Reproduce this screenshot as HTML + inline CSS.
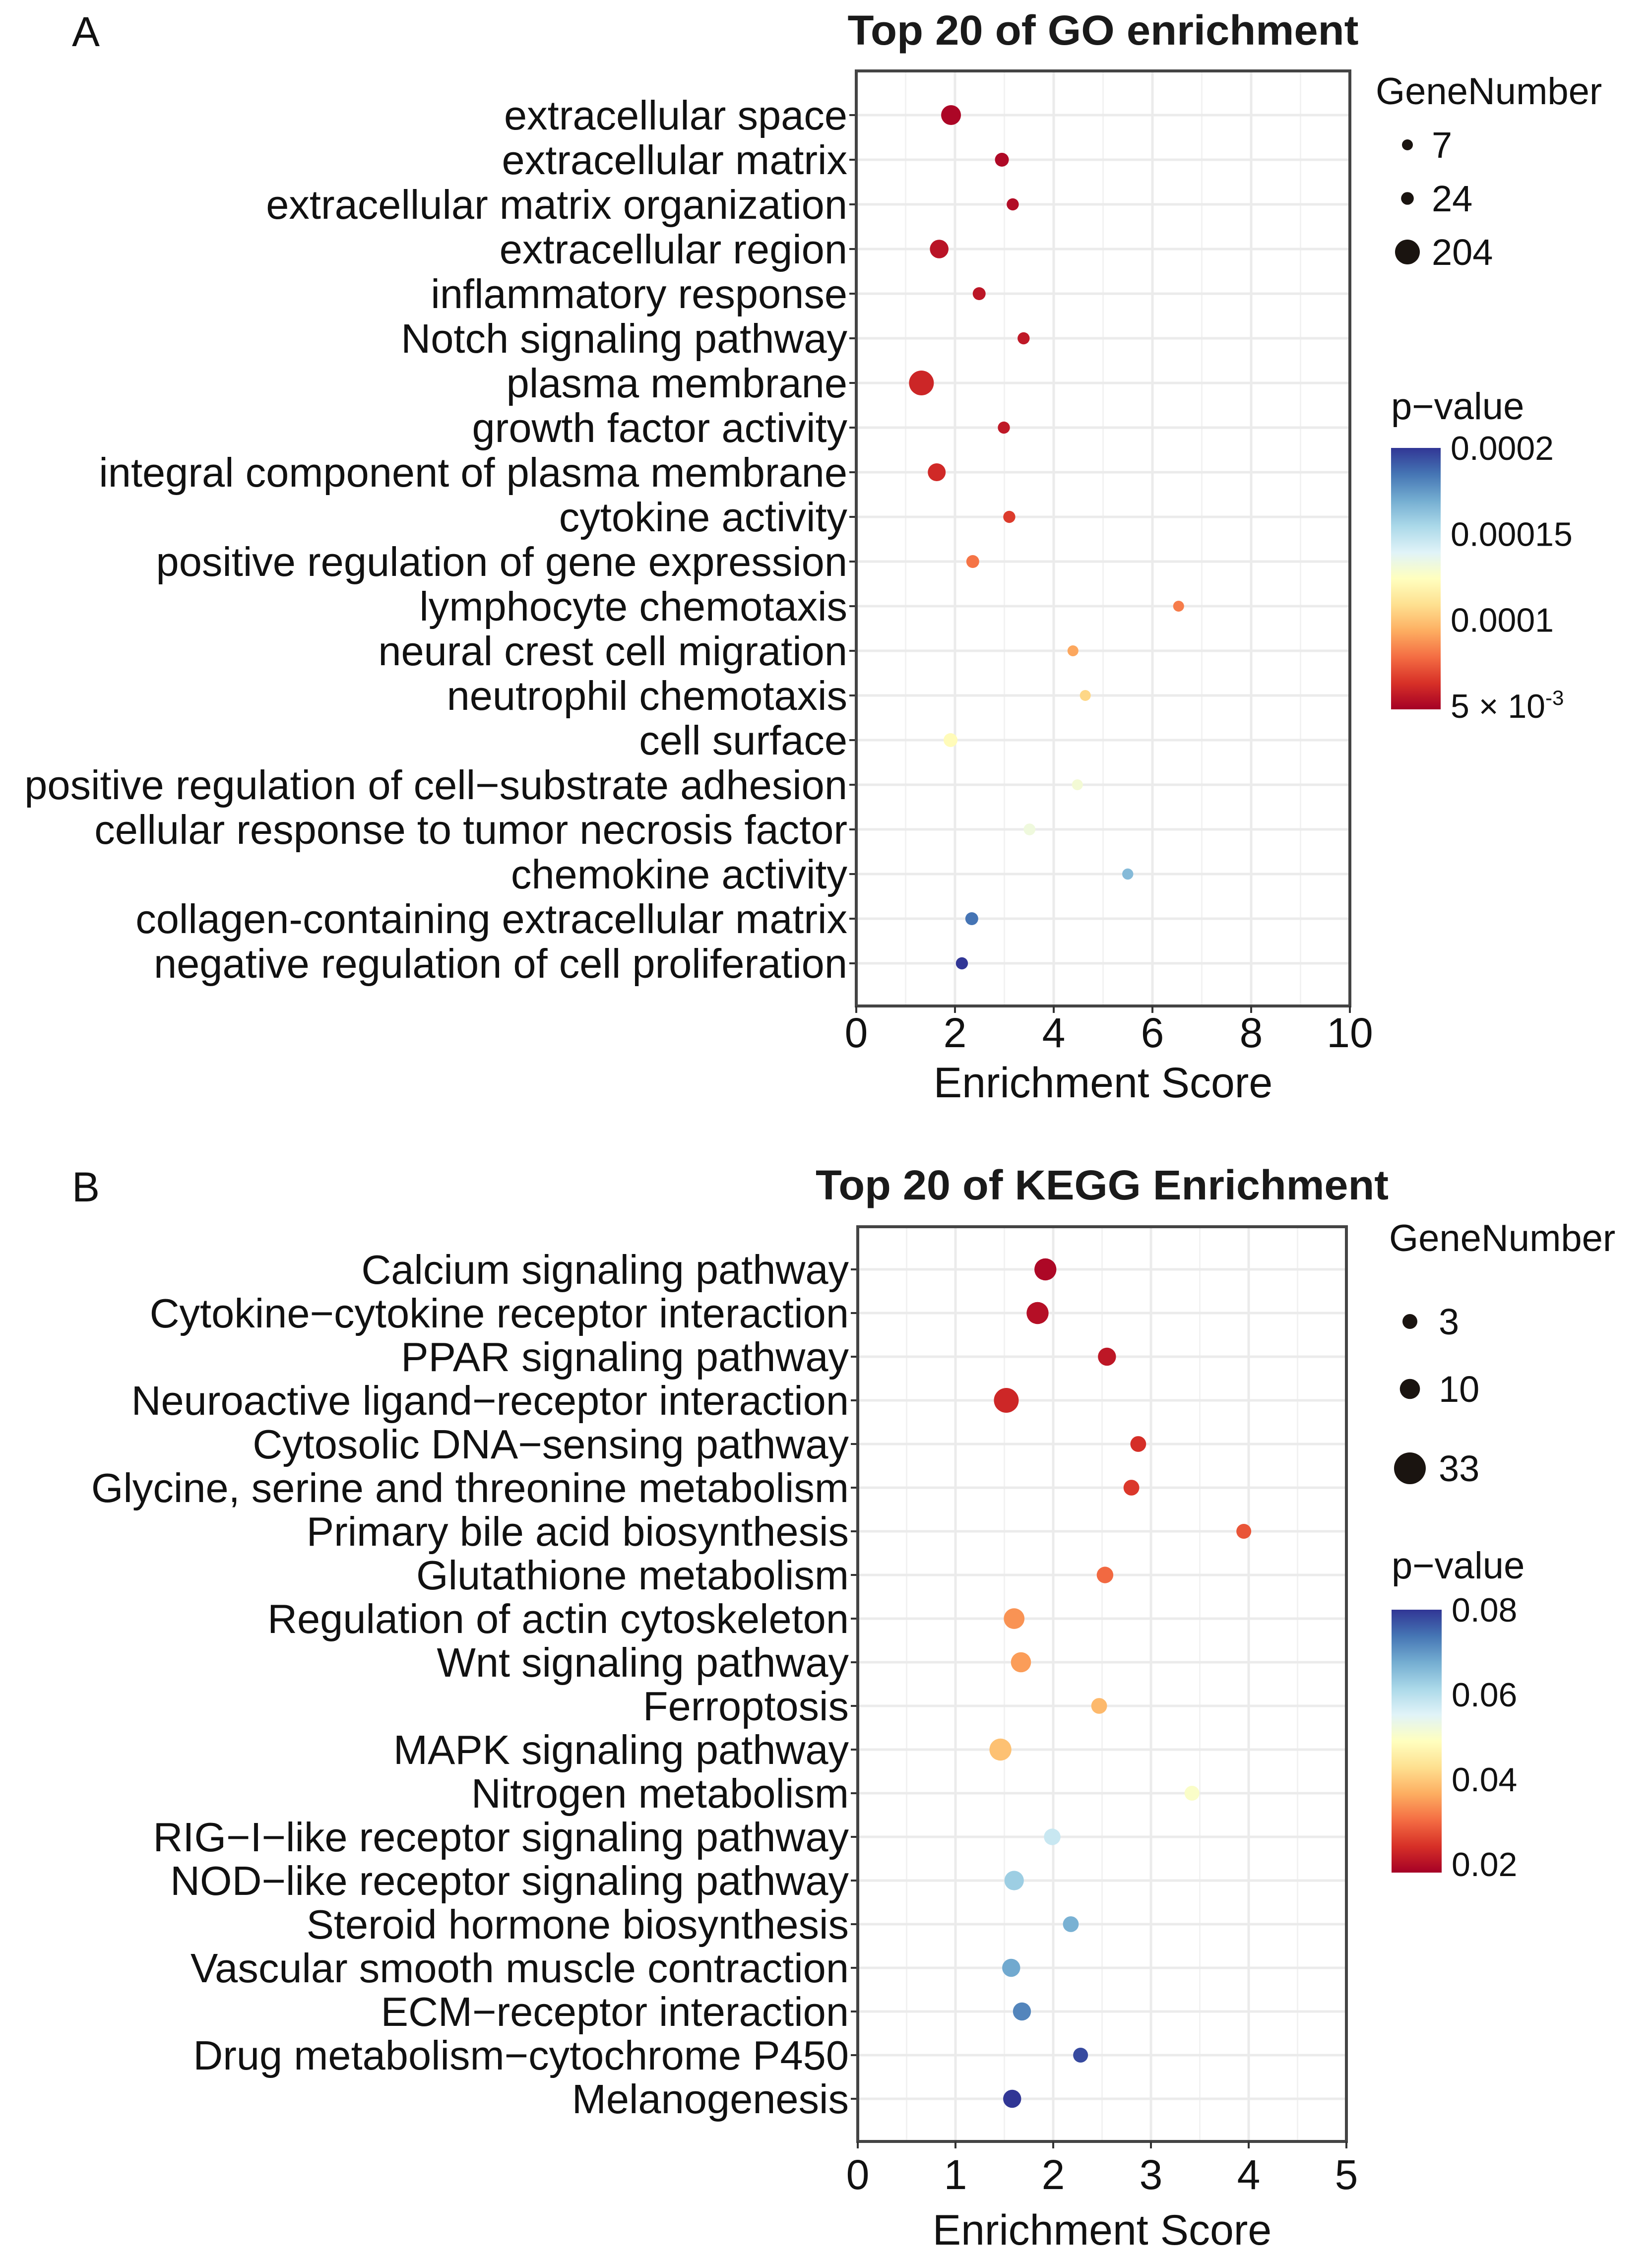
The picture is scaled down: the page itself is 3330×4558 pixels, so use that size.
<!DOCTYPE html>
<html><head><meta charset="utf-8">
<style>
html,body{margin:0;padding:0;background:#fff;}
svg{display:block;font-family:"Liberation Sans",Arial,sans-serif;}
</style></head>
<body>
<svg id="fig" width="3330" height="4558" viewBox="0 0 3330 4558" xmlns="http://www.w3.org/2000/svg">
<defs>
<linearGradient id="gradA" x1="0" y1="1" x2="0" y2="0">
<stop offset="0" stop-color="#a50026"/><stop offset="0.1" stop-color="#d73027"/><stop offset="0.2" stop-color="#f46d43"/><stop offset="0.3" stop-color="#fdae61"/><stop offset="0.4" stop-color="#fee090"/><stop offset="0.5" stop-color="#ffffbf"/><stop offset="0.6" stop-color="#e0f3f8"/><stop offset="0.7" stop-color="#abd9e9"/><stop offset="0.8" stop-color="#74add1"/><stop offset="0.9" stop-color="#4575b4"/><stop offset="1" stop-color="#313695"/>
</linearGradient>
</defs>
<rect width="3330" height="4558" fill="#fff"/>
<g id="panelA"></g>
<g id="panelB"></g>
</svg>
<script>
// ---------- Panel A data ----------
const goTerms = ["extracellular space","extracellular matrix","extracellular matrix organization","extracellular region","inflammatory response","Notch signaling pathway","plasma membrane","growth factor activity","integral component of plasma membrane","cytokine activity","positive regulation of gene expression","lymphocyte chemotaxis","neural crest cell migration","neutrophil chemotaxis","cell surface","positive regulation of cell\u2212substrate adhesion","cellular response to tumor necrosis factor","chemokine activity","collagen-containing extracellular matrix","negative regulation of cell proliferation"];
const goScores = [1.92,2.95,3.17,1.68,2.49,3.39,1.32,2.99,1.63,3.10,2.36,6.53,4.39,4.64,1.91,4.48,3.51,5.50,2.34,2.14];
const goGenes = [116,36,18,98,26,18,204,18,86,18,26,7,7,7,36,7,15,9,26,18];
const goPvals = [5.0e-5,5.1e-5,5.2e-5,5.4e-5,5.5e-5,5.6e-5,6.0e-5,5.6e-5,6.1e-5,6.6e-5,8.0e-5,8.2e-5,9.2e-5,1.06e-4,1.22e-4,1.3e-4,1.32e-4,1.65e-4,1.85e-4,2.0e-4];
const goXTicks = [0,2,4,6,8,10];
const goSizeLegend = [7,24,204];
const goPvalTicks = [0.0002,0.00015,0.0001,0.00005];
const goPvalTickLabels = ["0.0002","0.00015","0.0001","5 \u00d7 10"];

// ---------- Panel B data ----------
const keggTerms = ["Calcium signaling pathway","Cytokine\u2212cytokine receptor interaction","PPAR signaling pathway","Neuroactive ligand\u2212receptor interaction","Cytosolic DNA\u2212sensing pathway","Glycine, serine and threonine metabolism","Primary bile acid biosynthesis","Glutathione metabolism","Regulation of actin cytoskeleton","Wnt signaling pathway","Ferroptosis","MAPK signaling pathway","Nitrogen metabolism","RIG\u2212I\u2212like receptor signaling pathway","NOD\u2212like receptor signaling pathway","Steroid hormone biosynthesis","Vascular smooth muscle contraction","ECM\u2212receptor interaction","Drug metabolism\u2212cytochrome P450","Melanogenesis"];
const keggScores = [1.92,1.84,2.55,1.52,2.87,2.80,3.95,2.53,1.60,1.67,2.47,1.46,3.42,1.99,1.60,2.18,1.57,1.68,2.28,1.58];
const keggGenes = [13,13,7,18,4,4,3,5,11,10,4,13,3,5,9,4,7,7,3,7];
const keggPvals = [0.019,0.02,0.021,0.023,0.024,0.025,0.028,0.030,0.034,0.035,0.038,0.039,0.050,0.058,0.063,0.067,0.068,0.072,0.078,0.080];
const keggXTicks = [0,1,2,3,4,5];
const keggSizeLegend = [3,10,33];
const keggPvalTicks = [0.08,0.06,0.04,0.02];
const keggPvalTickLabels = ["0.08","0.06","0.04","0.02"];

const NS = "http://www.w3.org/2000/svg";
const STOPS = ["#a50026","#d73027","#f46d43","#fdae61","#fee090","#ffffbf","#e0f3f8","#abd9e9","#74add1","#4575b4","#313695"];
function hex(c){return [parseInt(c.slice(1,3),16),parseInt(c.slice(3,5),16),parseInt(c.slice(5,7),16)];}
function colorAt(t){
  t=Math.max(0,Math.min(1,t));
  const f=t*(STOPS.length-1), i=Math.min(Math.floor(f),STOPS.length-2), u=f-i;
  const a=hex(STOPS[i]), b=hex(STOPS[i+1]);
  return "rgb("+a.map((v,k)=>Math.round(v+(b[k]-v)*u)).join(",")+")";
}
function mk(parent,tag,attrs,text){
  const e=document.createElementNS(NS,tag);
  for(const k in attrs) e.setAttribute(k,attrs[k]);
  if(text!==undefined) e.textContent=text;
  parent.appendChild(e);
  return e;
}

function drawPanel(g,cfg){
  const L=cfg.left,R=cfg.right,T=cfg.top,B=cfg.bottom;
  const xScale=v=>L+(v-cfg.xmin)/(cfg.xmax-cfg.xmin)*(R-L);
  const n=cfg.terms.length;
  const yScale=i=>cfg.row0+i*(cfg.rowN-cfg.row0)/(n-1);
  const rScale=gn=>Math.sqrt(cfg.rMin*cfg.rMin+(cfg.rMax*cfg.rMax-cfg.rMin*cfg.rMin)*(gn-cfg.gMin)/(cfg.gMax-cfg.gMin));
  const cScale=p=>colorAt((p-cfg.pMin)/(cfg.pMax-cfg.pMin));

  const letter=mk(g,"text",{x:cfg.letterX,y:cfg.letterY,"font-size":84,fill:"#111"},cfg.letter);
  
  
  const title=mk(g,"text",{x:(L+R)/2,y:cfg.titleY,"font-size":84,"font-weight":"bold","text-anchor":"middle",fill:"#1a1a1a",textLength:cfg.titleLen,lengthAdjust:"spacingAndGlyphs","xml:space":"preserve"},cfg.title);
  
  

  const grid=mk(g,"g",{});
  
  
  for(let k=0;k<cfg.xTicks.length-1;k++){
    const mid=(cfg.xTicks[k]+cfg.xTicks[k+1])/2;
    mk(grid,"line",{x1:xScale(mid),x2:xScale(mid),y1:T,y2:B,stroke:"#f2f2f2","stroke-width":3});
  }
  cfg.xTicks.forEach(v=>mk(grid,"line",{x1:xScale(v),x2:xScale(v),y1:T,y2:B,stroke:"#ebebeb","stroke-width":5}));
  for(let i=0;i<n;i++) mk(grid,"line",{x1:L,x2:R,y1:yScale(i),y2:yScale(i),stroke:"#ebebeb","stroke-width":5});

  cfg.terms.forEach((t,i)=>{
    const y=yScale(i);
    const tk=mk(g,"line",{x1:L-14,x2:L,y1:y,y2:y,stroke:"#333","stroke-width":4});
    
    
    const lb=mk(g,"text",{x:L-18,y:y+29,"font-size":cfg.labelSize,"text-anchor":"end",fill:"#111"},t);
    
    
  });

  cfg.scores.forEach((s,i)=>{
    const c=mk(g,"circle",{cx:xScale(s),cy:yScale(i),r:rScale(cfg.genes[i]).toFixed(1),fill:cScale(cfg.pvals[i])});
    
    
  });

  const bd=mk(g,"rect",{x:L,y:T,width:R-L,height:B-T,fill:"none",stroke:"#444","stroke-width":6});
  
  

  cfg.xTicks.forEach(v=>{
    const x=xScale(v);
    const tk=mk(g,"line",{x1:x,x2:x,y1:B,y2:B+14,stroke:"#333","stroke-width":4});
    
    
    const lb=mk(g,"text",{x:x,y:cfg.tickY,"font-size":84,"text-anchor":"middle",fill:"#111"},String(v));
    
    
  });
  const xt=mk(g,"text",{x:(L+R)/2,y:cfg.xTitleY,"font-size":86,"text-anchor":"middle",fill:"#111"},"Enrichment Score");
  
  

  const sl=mk(g,"g",{});
  
  
  mk(sl,"text",{x:cfg.sizeTitleX,y:cfg.sizeTitleY,"font-size":76,fill:"#111"},"GeneNumber");
  cfg.sizeLegend.forEach((gn,k)=>{
    const y=cfg.sizeYs[k];
    const d=mk(sl,"circle",{cx:cfg.sizeDotX,cy:y,r:cfg.legendR[k],fill:"#1a1410"});
    
    
    const t=mk(sl,"text",{x:cfg.sizeLabX,y:y+26,"font-size":74,fill:"#111"},String(gn));
    
    
  });

  const cl=mk(g,"g",{});
  
  
  mk(cl,"text",{x:cfg.cbX,y:cfg.pTitleY,"font-size":76,fill:"#111"},"p\u2212value");
  const bar=mk(cl,"rect",{x:cfg.cbX,y:cfg.cbTop,width:cfg.cbW,height:cfg.cbBot-cfg.cbTop,fill:"url(#gradA)"});
  
  
  const pY=p=>cfg.cbBot-(p-cfg.pMin)/(cfg.pMax-cfg.pMin)*(cfg.cbBot-cfg.cbTop);
  cfg.pTicks.forEach((p,k)=>{
    const y=pY(p);
    const t=mk(cl,"text",{x:cfg.cbX+cfg.cbW+20,y:y+24,"font-size":68,fill:"#111"},cfg.pLabels[k]);
    
    
    if(cfg.pLabels[k].indexOf("10")>0){
      mk(t,"tspan",{dy:-26,"font-size":42},"-3");
    }
  });
}

drawPanel(document.getElementById("panelA"),{
  letter:"A",letterX:145,letterY:93,title:"Top 20 of  GO enrichment",titleY:90,titleLen:1030,
  left:1726,right:2721,top:143,bottom:2028,row0:232,rowN:1942,xmin:0,xmax:10,
  terms:goTerms,scores:goScores,genes:goGenes,pvals:goPvals,xTicks:goXTicks,labelSize:83,
  rMin:11,rMax:25,gMin:7,gMax:204,pMin:4.8e-5,pMax:2.0e-4,
  tickY:2111,xTitleY:2212,
  sizeTitleX:2773,sizeTitleY:210,sizeDotX:2837,sizeYs:[292,400,508],sizeLabX:2886,sizeLegend:goSizeLegend,legendR:[11,12.8,25],
  pTitleY:845,cbX:2804,cbW:100,cbTop:903,cbBot:1430,pTicks:goPvalTicks,pLabels:goPvalTickLabels
});
drawPanel(document.getElementById("panelB"),{
  letter:"B",letterX:145,letterY:2422,title:"Top 20 of  KEGG Enrichment",titleY:2418,titleLen:1155,
  left:1729,right:2714,top:2473,bottom:4317,row0:2559,rowN:4231,xmin:0,xmax:5,
  terms:keggTerms,scores:keggScores,genes:keggGenes,pvals:keggPvals,xTicks:keggXTicks,labelSize:83,
  rMin:15,rMax:32,gMin:3,gMax:33,pMin:0.018,pMax:0.08,
  tickY:4413,xTitleY:4525,
  sizeTitleX:2800,sizeTitleY:2522,sizeDotX:2842,sizeYs:[2664,2800,2960],sizeLabX:2900,sizeLegend:keggSizeLegend,legendR:[15,20.3,32],
  pTitleY:3182,cbX:2805,cbW:101,cbTop:3245,cbBot:3775,pTicks:keggPvalTicks,pLabels:keggPvalTickLabels
});
</script>
</body></html>
